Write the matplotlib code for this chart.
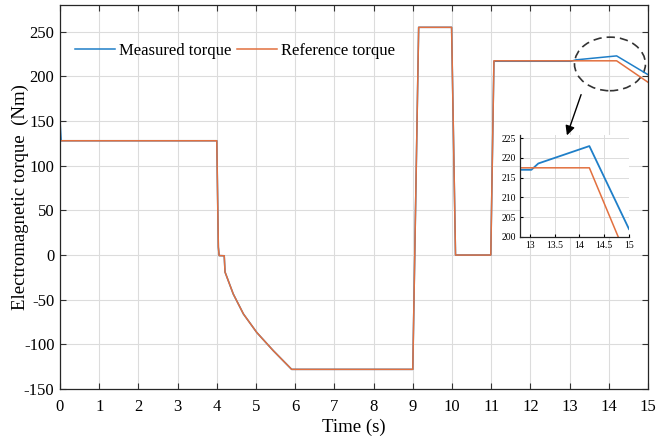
import numpy as np
import matplotlib
matplotlib.use("Agg")
import matplotlib.pyplot as plt
from matplotlib.patches import Ellipse

plt.rcParams['font.family'] = ['Liberation Serif', 'DejaVu Serif']
plt.rcParams['axes.unicode_minus'] = False

# Reference torque profile (time s, torque Nm)
t_ref = [0.0, 0.005, 4.0, 4.04, 4.06, 4.19, 4.21, 4.42, 4.68, 5.02, 5.44, 5.91,
         9.0, 9.15, 9.99, 10.09, 10.99, 11.07, 14.2, 15.0]
v_ref = [0.0, 128, 128, 9, -0.6, -0.8, -19, -43.6, -66, -86.7, -107, -128,
         -128, 255, 255, 0, 0, 217.5, 217.5, 193.5]

# Measured torque
t_meas = [0.0, 0.004, 0.03, 4.0, 4.04, 4.06, 4.19, 4.21, 4.42, 4.68, 5.02, 5.44, 5.91,
          9.0, 9.15, 9.99, 10.09, 10.99, 11.07, 13.03, 13.17, 14.2, 15.0]
v_meas = [0.0, 148, 128, 128, 9, -0.6, -0.8, -19, -43.6, -66, -86.7, -107, -128,
          -128, 255, 255, 0, 0, 217, 217, 218.6, 223, 202]

xticks = list(range(0, 16))
yticks = list(range(-150, 251, 50))
inset_xticks = [13, 13.5, 14, 14.5, 15]
inset_yticks = [200, 205, 210, 215, 220, 225]

c_meas = '#1f7fc8'
c_ref = '#e2703f'

fig = plt.figure(figsize=(6.71, 4.42), dpi=100)
ax = fig.add_axes([0.0894, 0.1199, 0.8763, 0.8688])

ax.plot(t_meas, v_meas, color=c_meas, lw=1.1, label='Measured torque')
ax.plot(t_ref, v_ref, color=c_ref, lw=1.1, label='Reference torque')

ax.set_xlim(0, 15)
ax.set_ylim(-150, 280)
ax.set_xticks(xticks)
ax.set_yticks(yticks)
ax.grid(True, color='#dcdcdc', lw=0.8)
ax.set_axisbelow(True)
ax.tick_params(direction='in', top=True, right=True, labelsize=12, length=4, color='#333333')
ax.tick_params(axis='x', pad=7)
ax.tick_params(axis='y', pad=4)
for s in ax.spines.values():
    s.set_color('#262626')
    s.set_linewidth(0.9)
ax.set_xlabel('Time (s)', fontsize=13.5, labelpad=3)
ax.set_ylabel('Electromagnetic torque  (Nm)', fontsize=13.5, labelpad=-4)

leg = ax.legend(loc='upper left', ncol=2, frameon=False, fontsize=12,
                bbox_to_anchor=(0.0, 0.94), handlelength=2.4, columnspacing=0.3,
                handletextpad=0.25)

# dashed ellipse
ell = Ellipse((14.03, 214), 1.81, 60, fill=False, ls=(0, (5, 3)), lw=1.2, color='#333333')
ax.add_patch(ell)

# arrow (figure pixel coords -> fraction)
W, H = 671, 442
ax.annotate('', xy=(566 / W, 1 - 138 / H), xytext=(582 / W, 1 - 92 / H),
            xycoords='figure fraction', textcoords='figure fraction',
            arrowprops=dict(arrowstyle='-|>', color='black', lw=1.0, mutation_scale=14))

# inset
iax = fig.add_axes([520 / W, 1 - 237 / H, 109 / W, 102 / H])
iax.plot(t_meas, v_meas, color=c_meas, lw=1.3)
iax.plot(t_ref, v_ref, color=c_ref, lw=1.1)
iax.set_xlim(12.8, 15)
iax.set_ylim(200, 225.8)
iax.set_xticks(inset_xticks)
iax.set_xticklabels(['13', '13.5', '14', '14.5', '15'])
iax.set_yticks(inset_yticks)
iax.grid(True, color='#dcdcdc', lw=0.7)
iax.tick_params(direction='in', labelsize=7, length=2, pad=3)
for side in ['top', 'right']:
    iax.spines[side].set_visible(False)
for side in ['left', 'bottom']:
    iax.spines[side].set_color('#262626')
    iax.spines[side].set_linewidth(0.9)

fig.savefig('out.png', dpi=100)
